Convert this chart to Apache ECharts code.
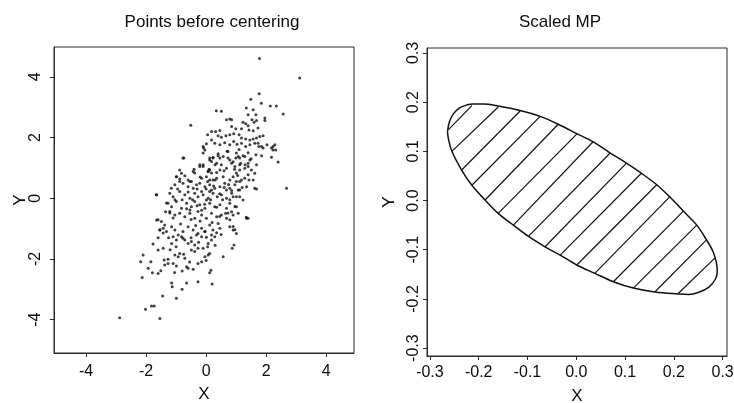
<!DOCTYPE html>
<html>
<head>
<meta charset="utf-8">
<script src="https://cdn.jsdelivr.net/npm/echarts@6/dist/echarts.min.js"></script>
<style>
html,body{margin:0;padding:0;background:#fff;}
#chart{width:734px;height:403px;}
</style>
</head>
<body>
<div id="chart"></div>
<script>
// ---- Data ----
const leftTitle = 'Points before centering';
const rightTitle = 'Scaled MP';
const leftXTicks = [-4, -2, 0, 2, 4];
const leftYTicks = [-4, -2, 0, 2, 4];
const rightXTicks = [-0.3, -0.2, -0.1, 0.0, 0.1, 0.2, 0.3];
const rightYTicks = [-0.3, -0.2, -0.1, 0.0, 0.1, 0.2, 0.3];

// scatter points [x, y] (left panel)
const scatterPoints = [
[1.78,4.60],[3.12,3.96],[1.77,3.44],[1.49,3.26],[1.84,3.13],[2.14,3.04],[2.34,3.04],[2.57,2.77],[0.34,2.88],[0.51,2.86],
[-0.51,2.40],[1.96,2.64],[1.34,2.97],[1.57,2.91],[1.66,2.75],[1.40,2.75],[1.53,2.58],[1.68,2.56],[1.96,2.56],
[0.68,2.58],[0.79,2.61],[0.85,2.58],[1.23,2.50],[1.32,2.45],[1.40,2.39],[1.60,2.50],[0.85,2.36],[0.99,2.29],[1.18,2.29],
[1.43,2.25],[1.57,2.22],[1.73,2.31],[0.18,2.20],[0.32,2.20],[0.46,2.23],[0.05,2.09],[0.40,2.06],[0.51,2.01],[0.66,2.06],
[0.79,2.09],[0.92,2.12],[1.10,2.09],[1.18,1.98],[1.32,1.95],[1.46,1.92],[1.57,1.95],[1.68,1.98],[1.79,2.03],[1.90,2.06],
[2.29,1.76],[2.32,1.59],[1.85,1.70],[1.73,1.81],[2.18,1.65],[2.23,1.59],[-0.10,1.70],[0.01,1.79],[-0.04,1.59],
[0.18,1.92],[0.29,1.81],[0.46,1.76],[0.62,1.83],[0.79,1.76],[0.92,1.87],[1.03,1.78],[1.18,1.81],[1.32,1.70],[1.46,1.76],
[1.62,1.81],[1.76,1.70],[1.90,1.65],[2.03,1.76],
[-0.74,1.32],[-0.08,1.65],[0.12,1.32],[0.23,1.35],[0.40,1.40],[0.46,1.32],[0.73,1.32],[0.99,1.32],[1.07,1.37],[1.23,1.40],
[1.40,1.50],[1.85,1.40],[2.18,1.35],[2.40,1.19],[2.68,0.33],[2.23,1.70],
[-0.10,1.49],[0.40,1.46],[0.57,1.37],[0.73,1.54],[1.01,1.49],[1.12,1.32],[1.29,1.37],[1.46,1.26],[1.66,1.43],[0.23,1.32],[0.12,1.26],[0.79,1.26],
[-0.21,1.10],[-0.10,1.04],[0.18,1.21],[0.35,1.15],[0.51,1.10],[0.68,0.99],[0.85,1.15],[0.96,1.04],[1.12,1.10],[1.29,0.99],
[1.40,1.15],[1.51,0.93],[1.68,1.10],[-0.88,0.93],[-0.43,0.88],[0.12,0.93],[0.46,0.93],
[-0.99,0.71],[-0.88,0.63],[-0.71,0.74],[-0.38,0.83],[-0.49,0.55],[-0.15,0.66],[0.01,0.71],[0.18,0.83],[0.23,0.60],[0.35,0.66],
[0.57,0.71],[0.79,0.60],[0.90,0.71],[1.01,0.83],[1.12,0.55],[1.29,0.66],[1.40,0.77],[1.57,0.60],[0.07,0.88],[0.12,0.60],
[-1.04,0.44],[-0.77,0.49],[-0.60,0.38],[-0.43,0.33],[-0.32,0.44],[-0.21,0.49],[-0.04,0.38],[0.12,0.44],[0.29,0.33],[0.46,0.38],
[0.62,0.49],[0.79,0.33],[0.96,0.44],[1.12,0.27],[1.35,0.38],[1.62,0.33],[-0.54,0.55],[0.18,0.27],[0.68,0.27],
[-1.65,0.11],[-1.21,0.16],[-1.10,0.05],[-0.88,0.22],[-0.71,0.11],[-0.54,0.00],[-0.38,0.16],[-0.27,0.05],[-0.10,0.11],[0.07,0.00],
[0.23,0.16],[0.37,0.05],[0.51,0.11],[0.68,0.00],[0.85,0.16],[1.01,0.05],[1.23,-0.06],[-0.15,0.22],[0.12,0.22],
[-1.27,-0.17],[-1.15,-0.28],[-0.99,-0.11],[-0.82,-0.33],[-0.65,-0.17],[-0.49,-0.28],[-0.38,-0.11],[-0.21,-0.22],[-0.04,-0.33],[0.12,-0.17],
[0.29,-0.28],[0.46,-0.22],[0.68,-0.33],[0.79,-0.17],[1.01,-0.28],[-0.54,-0.39],[0.01,-0.06],
[-1.21,-0.44],[-1.04,-0.55],[-0.88,-0.50],[-0.71,-0.61],[-0.54,-0.50],[-0.38,-0.66],[-0.27,-0.44],[-0.15,-0.55],[0.01,-0.66],[0.18,-0.50],
[0.35,-0.61],[0.51,-0.55],[0.68,-0.66],[0.90,-0.55],[1.07,-0.50],[1.35,-0.66],
[-1.65,-0.72],[-1.49,-0.77],[-1.38,-0.88],[-1.54,-1.05],[-1.43,-0.99],[-1.32,-1.10],[-1.15,-0.94],[-1.04,-1.05],[-0.93,-1.21],[-0.77,-1.10],
[-0.60,-0.94],[-0.43,-1.05],[-0.32,-1.21],[-0.15,-0.99],[-0.04,-1.10],[0.12,-0.88],[0.23,-1.05],[0.40,-0.83],[0.46,-0.99],[0.79,-0.94],
[0.90,-1.05],[1.01,-1.16],[1.40,-0.66],[-0.77,-1.32],[0.01,-1.29],
[-1.77,-1.51],[-2.10,-1.87],[-2.18,-2.09],[-2.13,-2.61],[-1.93,-2.31],[-1.79,-2.46],[-1.60,-2.48],[-1.51,-2.39],[-1.84,-2.09],
[-1.60,-1.71],[-1.43,-1.65],[-1.40,-2.04],[-1.27,-2.01],[-1.27,-2.15],[-1.38,-2.20],
[-1.10,-2.15],[-0.99,-2.23],[-1.04,-1.87],[-0.93,-1.93],[-0.88,-1.82],[-0.71,-1.98],[-0.65,-2.26],[-0.60,-2.31],[-0.43,-2.34],[-0.27,-2.15],
[-0.15,-2.09],[-0.04,-1.93],[0.07,-1.87],[-0.10,-1.65],[0.07,-1.49],[0.18,-1.38],[0.29,-1.27],
[-1.15,-1.49],[-0.99,-1.38],[-1.10,-1.27],[-0.82,-1.27],[-0.71,-1.38],[-0.60,-1.49],[-0.49,-1.43],[-0.38,-1.54],[-0.27,-1.65],[-0.38,-1.76],[-0.49,-1.71],
[-0.27,-1.16],[-0.15,-1.27],[-0.04,-1.10],[0.18,-1.21],[0.35,-1.14],[0.12,-1.82],[0.16,-2.37],[0.12,-2.46],
[0.57,-1.93],[0.87,-1.65],[0.93,-1.54],
[-1.15,-2.79],[-1.13,-2.92],[-0.65,-2.79],[-0.27,-2.75],[0.20,-2.83],[-0.80,-3.00],[-0.99,-3.30],[-1.45,-3.22],
[-1.82,-3.55],[-1.73,-3.55],[-2.02,-3.66],[-2.88,-3.94],[-1.54,-3.96],
[0.90,-0.93],[0.96,-1.04],[1.34,-0.63],
[1.62,0.82],[1.68,0.30],[1.40,1.04],[1.43,0.60],[1.12,0.93],[1.18,0.60],[1.01,0.55],[1.07,0.27],[1.12,0.05],[0.90,0.05],
[0.79,-0.05],[0.96,-0.27],[0.73,-0.49],[0.79,-0.71],
[-1.66,0.11],[-1.16,0.33],[-0.99,0.71],[-0.77,1.32],[-0.21,1.04],[-0.10,1.10],[0.07,0.88],[-0.82,0.82],[-0.88,0.55],[-1.04,-0.05],
[-1.32,-0.16],[-1.21,-0.49],[-1.60,-0.71],[-1.54,-1.04],[-1.43,-1.15],
[-0.6,0.2],[-0.45,-0.05],[-0.3,0.3],[-0.15,-0.4],[0.0,0.3],[0.15,-0.05],[0.3,0.6],[0.45,0.15],[0.6,0.9],[0.75,0.45],
[0.9,1.2],[1.05,0.75],[0.2,-0.8],[0.35,-0.3],[-0.2,-0.75],[-0.35,-0.9],[-0.5,-0.7],[-0.65,-0.35],[-0.8,-0.05],[-0.95,0.3],
[-1.1,-0.65],[-1.25,-1.3],[-1.0,-1.6],[-0.75,-1.85],[-0.5,-1.3],[-0.25,-1.45],[0.05,-1.6],[0.3,-1.55],[0.5,-1.2],[0.65,-0.5],
[0.85,0.25],[1.2,0.35],[1.3,1.1],[1.5,1.3],[1.1,1.6],[0.7,1.55],[0.3,1.1],[0.05,0.55],[-0.2,0.7],[-0.4,0.95],
[-0.6,0.6],[0.55,-0.05],[0.25,0.4],[-0.05,-0.2],[-0.3,-0.25],[0.45,-0.6],[0.6,0.35],[0.95,0.95],[1.15,1.15],[0.35,0.85],
[-0.85,-0.85],[-1.2,-1.7],[-1.05,-2.45],[-0.55,-2.1],[-0.8,-2.4],[0.0,-2.05],[-1.6,-1.3],[-1.35,-0.45],[0.1,0.95],[0.85,-0.45]
];

// ellipse outline (right panel), traced clockwise
const ellipseX = [-0.264,-0.260,-0.252,-0.240,-0.225,-0.212,-0.190,-0.160,-0.115,-0.074,-0.037,0.001,0.035,0.069,0.103,0.134,0.165,0.192,0.219,0.247,0.267,0.280,0.287,0.289,0.285,0.272,0.250,0.230,0.209,0.161,0.117,0.076,0.038,0.001,-0.033,-0.064,-0.098,-0.129,-0.160,-0.187,-0.214,-0.235,-0.255,-0.262,-0.264];
const ellipseY = [0.140,0.160,0.176,0.188,0.194,0.196,0.196,0.192,0.183,0.171,0.155,0.136,0.119,0.097,0.076,0.055,0.032,0.007,-0.021,-0.050,-0.080,-0.103,-0.125,-0.145,-0.160,-0.176,-0.187,-0.191,-0.190,-0.186,-0.178,-0.165,-0.148,-0.131,-0.111,-0.094,-0.073,-0.050,-0.026,0.001,0.031,0.062,0.100,0.125,0.140];

// hatch segments: lower-left end and upper-right end
const hatchLowX = [-0.262,-0.255,-0.235,-0.214,-0.187,-0.160,-0.129,-0.098,-0.064,-0.033,0.001,0.038,0.076,0.117,0.161,0.209];
const hatchLowY = [0.144,0.100,0.062,0.031,0.001,-0.026,-0.050,-0.073,-0.094,-0.111,-0.131,-0.148,-0.165,-0.178,-0.186,-0.189];
const hatchHighX = [-0.214,-0.160,-0.115,-0.074,-0.037,0.001,0.035,0.069,0.103,0.134,0.165,0.192,0.219,0.247,0.267,0.284];
const hatchHighY = [0.193,0.190,0.182,0.171,0.155,0.135,0.120,0.096,0.076,0.056,0.032,0.008,-0.022,-0.050,-0.080,-0.117];

// ---- Chart ----
const FONT = '"Liberation Sans", Arial, Helvetica, sans-serif';
const INK = '#0d0d0d';
const chart = echarts.init(document.getElementById('chart'), null, {renderer: 'canvas'});

function axis(opts) {
  return Object.assign({
    type: 'value',
    splitLine: {show: false},
    axisLine: {show: true, onZero: false, lineStyle: {color: '#2a2a2a', width: 1}},
    nameLocation: 'middle',
    nameMoveOverlap: false,
    nameTextStyle: {fontSize: 17, color: INK, fontFamily: FONT}
  }, opts);
}
function ticks(vals) {
  return {show: true, length: 4, inside: false, customValues: vals, lineStyle: {color: '#2a2a2a', width: 1}};
}

const ellipseData = ellipseX.map((x, i) => [x, ellipseY[i]]);
const hatchData = hatchLowX.map((x, i) => ({coords: [[x, hatchLowY[i]], [hatchHighX[i], hatchHighY[i]]]}));

chart.setOption({
  backgroundColor: '#fff',
  animation: false,
  textStyle: {fontFamily: FONT},
  grid: [
    {left: 54, top: 47, width: 300, height: 306, show: true, borderColor: '#2a2a2a', borderWidth: 1, containLabel: false, outerBoundsMode: 'none'},
    {left: 427, top: 48, width: 300, height: 308, show: true, borderColor: '#2a2a2a', borderWidth: 1, containLabel: false, outerBoundsMode: 'none'}
  ],
  graphic: [
    {type: 'text', x: 212, y: 22, style: {text: leftTitle, fontSize: 17, fontFamily: FONT, fill: INK, textAlign: 'center', textVerticalAlign: 'middle'}},
    {type: 'text', x: 560, y: 22, style: {text: rightTitle, fontSize: 17, fontFamily: FONT, fill: INK, textAlign: 'center', textVerticalAlign: 'middle'}}
  ],
  xAxis: [
    axis({gridIndex: 0, min: -5.07, max: 4.93, name: 'X', nameGap: 33,
      axisTick: ticks(leftXTicks),
      axisLabel: {customValues: leftXTicks, fontSize: 16, color: INK, margin: 11, fontFamily: FONT}}),
    axis({gridIndex: 1, min: -0.306, max: 0.309, name: 'X', nameGap: 32,
      axisTick: ticks(rightXTicks),
      axisLabel: {customValues: rightXTicks, fontSize: 16, color: INK, margin: 9, fontFamily: FONT,
        formatter: v => v.toFixed(1)}})
  ],
  yAxis: [
    axis({gridIndex: 0, min: -5.1, max: 4.98, name: 'Y', nameGap: 25, nameRotate: 90,
      axisTick: ticks(leftYTicks),
      axisLabel: {customValues: leftYTicks, fontSize: 16, color: INK, margin: 10, rotate: 90, fontFamily: FONT}}),
    axis({gridIndex: 1, min: -0.316, max: 0.31, name: 'Y', nameGap: 29, nameRotate: 90,
      axisTick: ticks(rightYTicks),
      axisLabel: {customValues: rightYTicks, fontSize: 16, color: INK, margin: 5, rotate: 90, fontFamily: FONT,
        formatter: v => v.toFixed(1)}})
  ],
  series: [
    {type: 'scatter', xAxisIndex: 0, yAxisIndex: 0, data: scatterPoints, symbol: 'circle', symbolSize: 3,
      itemStyle: {color: '#111'}, silent: true},
    {type: 'line', xAxisIndex: 1, yAxisIndex: 1, data: ellipseData, smooth: 0.35, showSymbol: false, symbol: 'none',
      lineStyle: {color: '#111', width: 1.5}, silent: true},
    {type: 'lines', coordinateSystem: 'cartesian2d', xAxisIndex: 1, yAxisIndex: 1, data: hatchData,
      lineStyle: {color: '#111', width: 1.2, opacity: 1}, silent: true}
  ]
});
</script>
</body>
</html>
